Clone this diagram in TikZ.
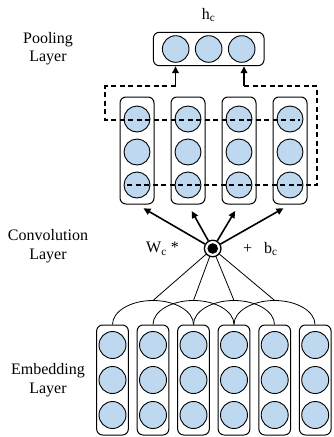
\documentclass[tikz,border=0pt]{standalone}
\usepackage{fontspec}
\setmainfont{Liberation Serif}
\usetikzlibrary{arrows.meta}
\definecolor{cellblue}{RGB}{190,216,240}
\begin{document}
\begin{tikzpicture}[x=1pt,y=-1pt,
  lbl/.style={align=center,font=\fontsize{16}{18.5}\selectfont,inner sep=0pt},
  unit/.style={circle,draw,fill=cellblue,inner sep=0pt,line width=0.9pt,minimum size=#1},
  unit/.default=26.6pt,
  rbox/.style 2 args={draw,rounded corners=6pt,line width=1pt,inner sep=0pt,minimum width=#1,minimum height=#2},
  pooldash/.style={line width=1.7pt,dash pattern=on 5pt off 3.5pt},
  arr/.style={line width=1.6pt,-{Triangle[length=7pt,width=6.5pt]}},
  thin/.style={line width=0.8pt}
]
\useasboundingbox (0,0) rectangle (333,437);

% layer labels
\node[lbl] (pl) at (48,48.5) {Pooling\\Layer};
\node[lbl] (cl) at (48,246) {Convolution\\Layer};
\node[lbl] (el) at (48,380) {Embedding\\Layer};

% pooling output
\node[lbl] (hc) at (208.7,15) {h\textsubscript{c}};
\node[rbox={110.7pt}{33.4pt}] (top) at (208.7,49) {};
\node[unit] (t1) at (175.7,49) {};
\node[unit] (t2) at (208.7,49) {};
\node[unit] (t3) at (241.7,49) {};

% convolution feature maps
\foreach \i/\x in {1/137,2/188,3/239,4/290}{
  \node[rbox={34pt}{107pt}] (c\i) at (\x,150.5) {};
  \node[unit=26pt] (c\i a) at (\x,119) {};
  \node[unit=26pt] (c\i b) at (\x,152) {};
  \node[unit=26pt] (c\i c) at (\x,185) {};
}

% pooling regions
\coordinate (a1) at (175.5,86);
\coordinate (a2) at (244,86);
\draw[pooldash] (a1) -- (105,86) -- (105,120) -- (300,120);
\draw[pooldash] (a2) -- (317,86) -- (317,185) -- (127,185);
\draw[arr] (a1) -- (a1 |- top.south);
\draw[arr] (a2) -- (a2 |- top.south);

% convolution operator
\node[circle,draw,line width=1.3pt,minimum size=16.6pt,inner sep=0pt] (dot) at (212.7,248.5) {};
\node[circle,fill=black,minimum size=10.6pt,inner sep=0pt] (dotin) at (dot) {};
\node[lbl,anchor=east] (wc) at (179,249) {W\textsubscript{c} *};
\node[lbl,anchor=west] (bc) at (243,249) {+\hspace{0.75em}b\textsubscript{c}};

\foreach \i in {1,...,4}{
  \draw[arr,shorten >=7.5pt] (dot) -- (c\i.south);
}

% embeddings
\foreach \i/\x in {1/112.5,2/153,3/193.5,4/234,5/274.7,6/315.2}{
  \node[rbox={31.7pt}{110pt}] (e\i) at (\x,380) {};
  \node[unit=27pt] (e\i a) at (\x,345) {};
  \node[unit=27pt] (e\i b) at (\x,380) {};
  \node[unit=27pt] (e\i c) at (\x,415) {};
}

% windows
\foreach \i/\j/\k in {1/2/3,2/3/4,3/4/5,4/5/6}{
  \draw[thin] (e\i.north) arc[start angle=180,end angle=0,x radius=40.5pt,y radius=24pt];
  \coordinate (pk\i) at ([yshift=24pt]e\j.north);
  \draw[thin] (dot) -- (pk\i);
}
\end{tikzpicture}
\end{document}
